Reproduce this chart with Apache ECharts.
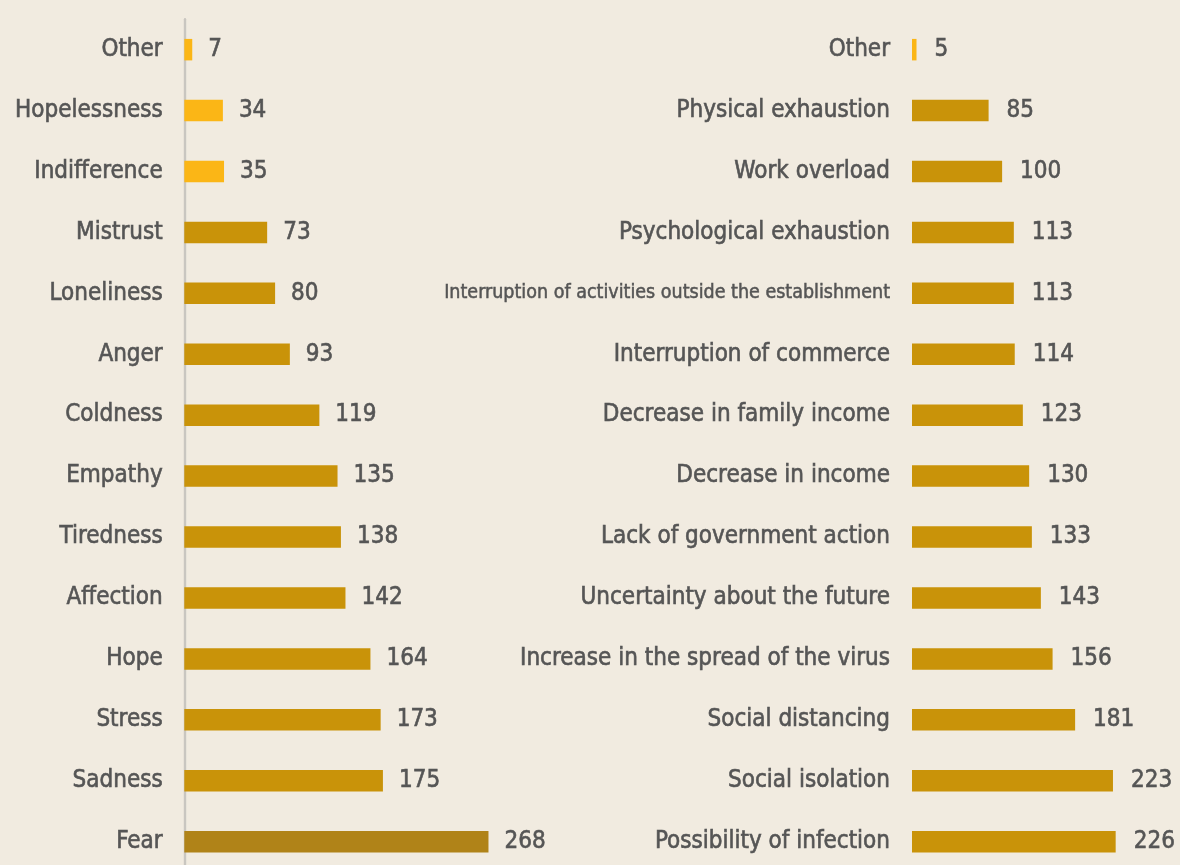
<!DOCTYPE html>
<html>
<head>
<meta charset="utf-8">
<script src="https://cdn.jsdelivr.net/npm/echarts@6/dist/echarts.min.js"></script>
<style>
html,body{margin:0;padding:0;background:#f1ebe0;}
#chart{width:1180px;height:865px;}
</style>
</head>
<body>
<div id="chart"></div>
<script>
// Left panel: feelings
const leftCategories = ['Other','Hopelessness','Indifference','Mistrust','Loneliness','Anger','Coldness','Empathy','Tiredness','Affection','Hope','Stress','Sadness','Fear'];
const leftValues = [7,34,35,73,80,93,119,135,138,142,164,173,175,268];
// Right panel: concerns
const rightCategories = ['Other','Physical exhaustion','Work overload','Psychological exhaustion','Interruption of activities outside the establishment','Interruption of commerce','Decrease in family income','Decrease in income','Lack of government action','Uncertainty about the future','Increase in the spread of the virus','Social distancing','Social isolation','Possibility of infection'];
const rightValues = [5,85,100,113,113,114,123,130,133,143,156,181,223,226];

const FONT = '"DejaVu Sans Condensed","DejaVu Sans",sans-serif';
const TEXT = '#555555';
const GOLD = '#c99309', YELLOW = '#fbb616', DARK = '#b08318';
const yellowNames = ['Other','Hopelessness','Indifference'];

function leftColor(p){
  if (p.name === 'Fear') return DARK;
  return yellowNames.indexOf(p.name) >= 0 ? YELLOW : GOLD;
}
function rightColor(p){
  return p.name === 'Other' ? YELLOW : GOLD;
}
const txt = {color: TEXT, fontFamily: FONT, fontSize: 24, textBorderColor: TEXT, textBorderWidth: 0.6};

const chart = echarts.init(document.getElementById('chart'));
chart.setOption({
  backgroundColor: '#f1ebe0',
  animation: false,
  grid: [
    {left: 184.3, top: 19.2, width: 340.5, height: 852.9, outerBoundsMode: 'none', containLabel: false},
    {left: 912, top: 19.2, width: 225.3, height: 852.9, outerBoundsMode: 'none', containLabel: false}
  ],
  xAxis: [
    {gridIndex: 0, type: 'value', min: 0, max: 300, show: false},
    {gridIndex: 1, type: 'value', min: 0, max: 250, show: false}
  ],
  yAxis: [
    {gridIndex: 0, type: 'category', data: leftCategories, inverse: true, offset: 1.6,
     axisLine: {show: true, lineStyle: {color: '#c9c6c0', width: 2.4}},
     axisTick: {show: false},
     axisLabel: Object.assign({margin: 20}, txt)},
    {gridIndex: 1, type: 'category', data: rightCategories, inverse: true,
     axisLine: {show: false}, axisTick: {show: false},
     axisLabel: Object.assign({margin: 22,
       formatter: function(v){ return v.length > 40 ? '{s|' + v + '}' : v; },
       rich: {s: {fontSize: 19.5, color: TEXT, fontFamily: FONT, textBorderColor: TEXT, textBorderWidth: 0.5}}}, txt)}
  ],
  series: [
    {type: 'bar', xAxisIndex: 0, yAxisIndex: 0, data: leftValues, barWidth: 21.5,
     itemStyle: {color: leftColor},
     label: Object.assign({show: true, position: 'right', distance: 16}, txt)},
    {type: 'bar', xAxisIndex: 1, yAxisIndex: 1, data: rightValues, barWidth: 21.5,
     itemStyle: {color: rightColor},
     label: Object.assign({show: true, position: 'right', distance: 18}, txt)}
  ]
});
</script>
</body>
</html>
